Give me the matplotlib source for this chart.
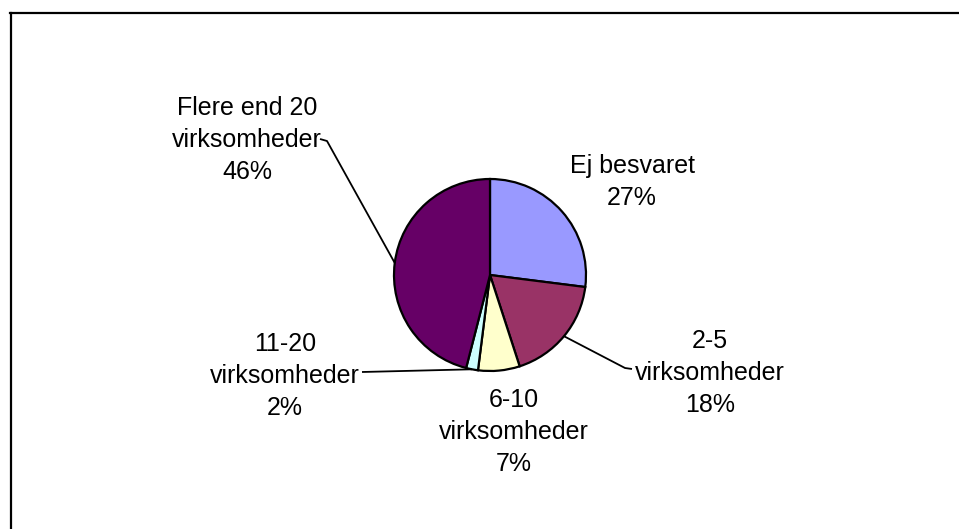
import numpy as np
import matplotlib.pyplot as plt
from matplotlib.lines import Line2D

W, H = 959, 529

categories = ["Ej besvaret", "2-5\nvirksomheder", "6-10\nvirksomheder",
              "11-20\nvirksomheder", "Flere end 20\nvirksomheder"]
shares = [27, 18, 7, 2, 46]
colors = ["#9999FF", "#993366", "#FFFFCC", "#CCFFFF", "#660066"]

# label centres in pixel coords (x, y from top), and leader elbows (None = no leader)
label_pos = [(632, 182), (710, 373), (514, 432), (285, 376), (247, 140)]
leader_end = [None, [(625, 368), (632, 369)], None,
              [(362, 372)], [(327, 141), (320, 139)]]

CX, CY, R = 490, 275, 96


def fy(y):
    return H - y


fig = plt.figure(figsize=(W / 100, H / 100), dpi=100)
ax = fig.add_axes([0, 0, 1, 1])

wedges, _ = ax.pie(shares, colors=colors, startangle=90, counterclock=False,
                   center=(CX, fy(CY)), radius=R,
                   wedgeprops=dict(edgecolor="black", linewidth=1.6))
ax.set_xlim(0, W)
ax.set_ylim(0, H)
ax.set_aspect("equal")
ax.axis("off")

for w, cat, val, (lx, ly), elbow in zip(wedges, categories, shares, label_pos, leader_end):
    ax.text(lx, fy(ly), f"{cat}\n{val}%", ha="center", va="center",
            fontsize=18, family="Liberation Sans", linespacing=1.4)
    if elbow is None:
        continue
    mid = np.deg2rad((w.theta1 + w.theta2) / 2)
    xs = [CX + R * np.cos(mid)] + [p[0] for p in elbow]
    ys = [fy(CY) + R * np.sin(mid)] + [fy(p[1]) for p in elbow]
    ax.plot(xs, ys, color="black", lw=1.3, solid_capstyle="butt")

# chart area frame (left and top edges visible)
fig.add_artist(Line2D([10.5 / W, 10.5 / W], [0, 1 - 12.5 / H], color="black", lw=1.6))
fig.add_artist(Line2D([10 / W, 1], [1 - 12.5 / H, 1 - 12.5 / H], color="black", lw=1.6))

fig.savefig("out.png", dpi=100, facecolor="white")
